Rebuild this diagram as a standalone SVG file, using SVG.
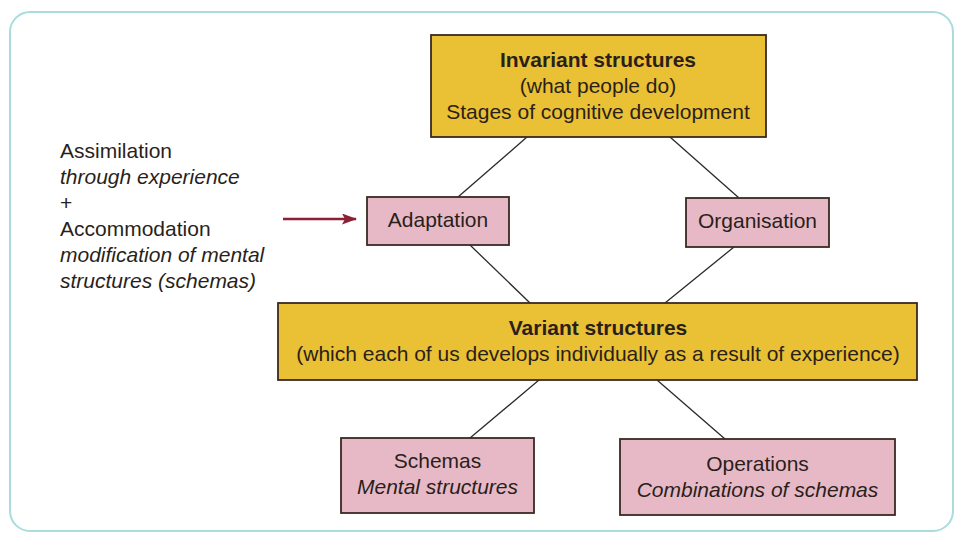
<svg xmlns="http://www.w3.org/2000/svg" width="957" height="535" viewBox="0 0 957 535">
<defs>
<style>
.frame{fill:#ffffff;stroke:#a9dcdc;stroke-width:2}
.gold{fill:#eac034;stroke:#3a2a22;stroke-width:1.8}
.pink{fill:#e7b9c6;stroke:#3a2a22;stroke-width:1.8}
.t{font-family:"Liberation Sans",Arial,sans-serif;font-size:21px;fill:#2a1f1a}
.c{text-anchor:middle}
.b{font-weight:bold}
.i{font-style:italic}
.conn line{stroke:#2a2a2a;stroke-width:1.3}
.arr{stroke:#8b1f33;stroke-width:2.6;fill:none}
</style>
<marker id="ah" markerWidth="15" markerHeight="11" refX="14" refY="5.5" orient="auto" markerUnits="userSpaceOnUse">
<path d="M0,0 L15,5.5 L0,11 L3,5.5 Z" fill="#8b1f33"/>
</marker>
</defs>
<rect x="0" y="0" width="957" height="535" fill="#ffffff"/>
<rect class="frame" x="10" y="12" width="943" height="519" rx="20" ry="20"/>

<g id="connectors" class="conn">
<line x1="527" y1="137" x2="458" y2="197"/>
<line x1="670" y1="137" x2="739" y2="198"/>
<line x1="470" y1="245" x2="530" y2="303"/>
<line x1="734" y1="247" x2="665" y2="303"/>
<line x1="539" y1="380" x2="470" y2="438"/>
<line x1="657" y1="380" x2="725" y2="439"/>
</g>

<g id="input-text">
<text class="t" x="60" y="158">Assimilation</text>
<text class="t i" x="60" y="184">through experience</text>
<text class="t" x="60" y="210">+</text>
<text class="t" x="60" y="236">Accommodation</text>
<text class="t i" x="60" y="262">modification of mental</text>
<text class="t i" x="60" y="288">structures (schemas)</text>
</g>

<g id="arrow">
<line class="arr" x1="283" y1="219" x2="356" y2="219" marker-end="url(#ah)"/>
</g>

<g id="invariant">
<rect class="gold" x="431" y="35" width="335" height="102"/>
<text class="t c b" x="598" y="67">Invariant structures</text>
<text class="t c" x="598" y="93">(what people do)</text>
<text class="t c" x="598" y="119">Stages of cognitive development</text>
</g>

<g id="adaptation">
<rect class="pink" x="367" y="197" width="142" height="48"/>
<text class="t c" x="438" y="227">Adaptation</text>
</g>

<g id="organisation">
<rect class="pink" x="686" y="198" width="143" height="49"/>
<text class="t c" x="757.5" y="228">Organisation</text>
</g>

<g id="variant">
<rect class="gold" x="278" y="303" width="639" height="77"/>
<text class="t c b" x="598" y="335">Variant structures</text>
<text class="t c" x="598" y="361">(which each of us develops individually as a result of experience)</text>
</g>

<g id="schemas">
<rect class="pink" x="341" y="438" width="193" height="75"/>
<text class="t c" x="437.5" y="468">Schemas</text>
<text class="t c i" x="437.5" y="494">Mental structures</text>
</g>

<g id="operations">
<rect class="pink" x="620" y="439" width="275" height="76"/>
<text class="t c" x="757.5" y="471">Operations</text>
<text class="t c i" x="757.5" y="497">Combinations of schemas</text>
</g>
</svg>
